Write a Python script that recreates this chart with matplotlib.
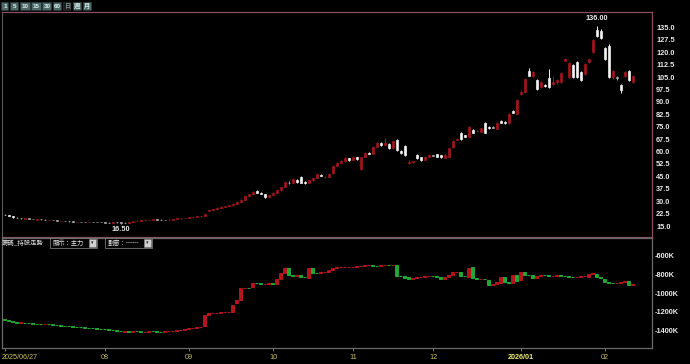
import matplotlib
matplotlib.use("Agg")
import matplotlib.pyplot as plt
from matplotlib.patches import Rectangle
import numpy as np
import pandas as pd

plt.rcParams['font.family'] = ['Liberation Sans', 'Noto Sans CJK TC', 'DejaVu Sans']

# ---------------- data ----------------
start_date = "2025-06-27"
end_date = "2026-02-11"
holidays = ["2025-09-29", "2025-10-06", "2025-10-10", "2025-10-24", "2025-12-25", "2026-01-01"]

price_open = [21.9, 21.5, 20.8, 20.1, 19.8, 19.5, 19.6, 19.3, 18.9, 19.1,
              18.9, 18.5, 18.6, 18.5, 18.1, 18.2, 18.0, 17.8, 17.5, 17.6,
              17.5, 17.4, 17.6, 17.5, 17.4, 17.3, 17.1, 17.0, 17.2, 17.2,
              17.1, 17.0, 17.3, 18.0, 18.3, 18.4, 18.6, 18.8, 19.2, 18.9,
              18.6, 18.6, 18.9, 19.2, 19.6, 19.8, 20.0, 20.2, 20.5, 20.8,
              21.0, 24.3, 24.4, 25.0, 25.9, 26.5, 27.0, 27.5, 28.3, 29.5,
              31.0, 33.0, 34.2, 35.9, 35.2, 34.2, 32.6, 33.8, 35.0, 36.5,
              38.6, 41.2, 41.0, 43.0, 44.8, 41.5, 41.0, 42.8, 44.2, 46.0,
              44.5, 44.8, 46.8, 51.3, 53.1, 54.3, 56.0, 55.0, 56.8, 49.5,
              56.7, 59.3, 58.6, 62.8, 65.0, 64.0, 64.5, 62.0, 67.0, 60.5,
              63.5, 53.0, 53.5, 58.0, 56.5, 55.2, 56.7, 58.0, 58.3, 57.8,
              56.3, 56.8, 62.5, 67.3, 71.3, 70.0, 69.0, 73.0, 72.3, 72.0,
              77.3, 74.8, 75.0, 73.7, 78.5, 78.0, 77.0, 84.5, 83.0, 95.0,
              96.0, 109.0, 105.5, 103.0, 99.0, 100.5, 104.5, 101.0, 102.0, 102.0,
              115.0, 105.0, 112.5, 114.0, 108.0, 107.0, 114.0, 120.0, 133.6, 133.0,
              122.7, 124.0, 105.0, 104.8, 100.0, 106.0, 108.6, 102.0]
price_high = [22.2, 21.6, 20.9, 20.3, 19.9, 19.8, 19.7, 19.4, 19.2, 19.2,
              19.0, 18.8, 18.7, 18.6, 18.3, 18.3, 18.1, 17.9, 17.7, 17.7,
              17.6, 17.7, 17.7, 17.6, 17.5, 17.4, 17.2, 17.3, 17.3, 17.3,
              17.2, 17.4, 18.1, 18.4, 18.6, 18.7, 18.9, 19.4, 19.3, 19.0,
              18.8, 19.0, 19.3, 19.7, 19.9, 20.1, 20.3, 20.6, 20.9, 21.2,
              22.6, 24.9, 25.3, 26.2, 26.8, 27.3, 27.8, 28.7, 29.9, 31.4,
              33.3, 34.6, 36.3, 36.5, 35.6, 34.5, 34.0, 35.3, 36.8, 38.8,
              42.0, 42.2, 43.8, 43.5, 45.5, 42.0, 43.1, 44.5, 47.0, 46.5,
              45.2, 46.8, 51.6, 53.5, 54.8, 56.6, 56.4, 57.2, 57.0, 57.0,
              59.8, 59.6, 63.3, 65.8, 65.5, 68.5, 65.0, 67.0, 67.5, 61.0,
              64.0, 55.0, 54.5, 58.5, 57.0, 57.2, 58.7, 58.2, 58.5, 58.0,
              58.3, 62.3, 67.0, 68.0, 71.8, 70.3, 75.5, 73.5, 73.0, 74.3,
              78.0, 75.2, 75.3, 77.8, 79.0, 78.5, 83.3, 85.0, 91.5, 97.0,
              104.5, 110.5, 108.5, 104.0, 102.5, 101.0, 110.0, 106.0, 104.0, 108.0,
              116.5, 114.0, 113.0, 115.0, 108.5, 113.5, 116.5, 128.0, 136.0, 134.0,
              123.5, 125.0, 109.5, 106.0, 101.0, 108.5, 109.5, 106.5]
price_low = [21.4, 20.8, 20.1, 19.8, 19.5, 19.4, 19.2, 19.0, 18.8, 18.9,
             18.5, 18.4, 18.4, 18.2, 18.0, 17.9, 17.7, 17.5, 17.4, 17.4,
             17.3, 17.3, 17.4, 17.3, 17.2, 17.0, 16.9, 16.9, 17.0, 16.5,
             16.8, 16.9, 17.3, 17.9, 18.2, 18.3, 18.5, 18.7, 18.8, 18.5,
             18.4, 18.5, 18.8, 19.1, 19.5, 19.7, 19.9, 20.1, 20.4, 20.6,
             20.9, 23.8, 24.2, 24.9, 25.7, 26.3, 26.8, 27.3, 28.1, 29.3,
             30.8, 32.8, 34.0, 35.0, 34.2, 32.2, 32.4, 33.6, 34.8, 36.3,
             38.4, 40.6, 40.8, 41.3, 41.0, 40.5, 40.8, 42.5, 44.0, 45.0,
             44.2, 44.6, 46.6, 51.0, 52.8, 54.0, 54.6, 54.8, 55.2, 49.0,
             56.5, 58.3, 58.4, 62.5, 63.6, 63.8, 61.5, 61.8, 60.5, 58.8,
             57.5, 52.5, 53.0, 55.5, 54.5, 55.0, 56.5, 57.3, 56.8, 56.3,
             56.0, 56.5, 62.2, 66.8, 67.3, 68.7, 68.8, 71.2, 72.0, 71.8,
             71.0, 73.8, 74.0, 73.5, 77.2, 76.7, 76.8, 83.2, 82.8, 94.5,
             95.5, 105.5, 105.0, 97.5, 98.5, 99.0, 98.5, 100.0, 101.0, 101.5,
             114.5, 104.5, 104.5, 104.5, 102.5, 106.5, 113.5, 119.5, 129.0, 128.0,
             115.5, 104.5, 104.0, 103.0, 95.5, 105.0, 102.5, 101.5]
price_close = [21.6, 20.9, 20.2, 19.9, 19.7, 19.6, 19.3, 19.1, 19.05, 19.0,
               18.6, 18.65, 18.5, 18.3, 18.2, 18.0, 17.8, 17.6, 17.6, 17.5,
               17.4, 17.6, 17.5, 17.4, 17.3, 17.1, 17.0, 17.2, 17.2, 17.1,
               17.0, 17.3, 18.0, 18.3, 18.4, 18.6, 18.8, 19.2, 18.9, 18.6,
               18.6, 18.9, 19.2, 19.6, 19.8, 20.0, 20.2, 20.5, 20.8, 21.05,
               22.3, 24.4, 25.0, 25.9, 26.5, 27.0, 27.5, 28.3, 29.5, 31.0,
               33.0, 34.2, 35.8, 35.2, 34.4, 32.5, 33.8, 35.0, 36.5, 38.5,
               41.6, 41.0, 43.4, 41.6, 41.3, 40.8, 42.8, 44.0, 46.5, 45.2,
               44.8, 46.5, 51.3, 53.1, 54.3, 56.1, 54.9, 56.7, 55.5, 56.7,
               59.2, 58.6, 62.8, 65.2, 64.0, 65.2, 62.0, 66.4, 61.0, 59.2,
               58.0, 54.0, 54.2, 56.0, 55.0, 56.7, 58.0, 57.5, 57.0, 56.5,
               58.0, 62.0, 66.5, 67.5, 67.6, 69.0, 75.0, 71.5, 72.5, 74.0,
               71.3, 74.0, 74.3, 77.3, 77.5, 77.0, 83.0, 83.5, 91.0, 96.0,
               104.0, 106.0, 108.0, 98.0, 102.0, 99.5, 99.0, 102.0, 103.0, 107.5,
               116.0, 113.6, 105.0, 105.0, 103.0, 113.0, 116.0, 127.5, 130.0, 128.6,
               116.0, 105.0, 109.0, 104.5, 97.0, 108.0, 103.0, 106.0]

# main-force holdings (thousand shares)
hold_open = [-1280, -1290, -1300, -1309, -1318, -1315, -1320, -1324, -1328, -1331,
             -1333, -1331, -1335, -1339, -1343, -1348, -1352, -1356, -1360, -1363,
             -1366, -1370, -1374, -1376, -1380, -1384, -1386, -1390, -1395, -1402,
             -1416, -1408, -1412, -1406, -1410, -1416, -1412, -1408, -1410, -1414,
             -1416, -1410, -1406, -1400, -1395, -1392, -1384, -1376, -1372, -1366,
             -1352, -1235, -1215, -1212, -1208, -1204, -1202, -1200, -1110, -1070,
             -946, -943, -940, -892, -895, -903, -900, -896, -900, -845,
             -790, -735, -806, -817, -810, -825, -839, -735, -780, -785,
             -775, -770, -755, -735, -725, -722, -720, -718, -716, -712,
             -710, -704, -702, -705, -708, -703, -700, -702, -700, -817,
             -820, -832, -849, -838, -828, -825, -818, -817, -820, -828,
             -849, -828, -806, -774, -774, -817, -828, -721, -839, -849,
             -845, -860, -913, -903, -892, -828, -881, -892, -806, -860,
             -774, -806, -806, -838, -817, -806, -808, -817, -813, -806,
             -817, -818, -828, -830, -828, -817, -828, -796, -796, -828,
             -849, -881, -892, -895, -890, -881, -870, -913]
hold_close = [-1288, -1298, -1309, -1315, -1312, -1320, -1324, -1328, -1331, -1333,
              -1331, -1335, -1339, -1343, -1348, -1352, -1356, -1360, -1363, -1366,
              -1370, -1374, -1376, -1380, -1384, -1386, -1390, -1395, -1402, -1410,
              -1408, -1412, -1406, -1410, -1416, -1412, -1408, -1410, -1414, -1416,
              -1410, -1406, -1400, -1395, -1392, -1384, -1376, -1372, -1366, -1358,
              -1235, -1215, -1212, -1208, -1204, -1202, -1200, -1128, -1074, -946,
              -943, -948, -892, -895, -903, -900, -896, -903, -845, -790,
              -735, -806, -817, -810, -825, -830, -735, -780, -785, -775,
              -772, -755, -735, -725, -722, -720, -718, -716, -712, -710,
              -704, -702, -705, -708, -703, -700, -702, -700, -817, -820,
              -839, -849, -838, -828, -825, -818, -817, -820, -828, -849,
              -828, -806, -774, -772, -817, -820, -732, -839, -849, -845,
              -849, -913, -903, -881, -828, -881, -892, -806, -871, -774,
              -806, -806, -838, -817, -806, -808, -817, -813, -806, -817,
              -818, -828, -830, -828, -817, -815, -796, -790, -828, -839,
              -881, -892, -895, -890, -881, -870, -913, -903]

price_ticks = [15.0, 22.5, 30.0, 37.5, 45.0, 52.5, 60.0, 67.5, 75.0, 82.5,
               90.0, 97.5, 105.0, 112.5, 120.0, 127.5, 135.0]
hold_ticks = [-600, -800, -1000, -1200, -1400]
toolbar_labels = ["1", "5", "10", "15", "30", "60", "日", "週", "月"]

# ---------------- figure ----------------
W, H = 690, 364
fig = plt.figure(figsize=(W / 100, H / 100), dpi=100, facecolor="black")

dates = pd.bdate_range(start_date, end_date)
dates = dates[~dates.isin(pd.to_datetime(holidays))]
n = len(price_close)
dates = dates[:n]
idx = np.arange(n)

def fx(px):
    return px / W

def fy(py):
    return 1 - py / H

ax1 = fig.add_axes([fx(2), fy(237), fx(650), 225 / H], facecolor="black")
ax2 = fig.add_axes([fx(2), fy(348), fx(650), 110 / H], facecolor="black")

UP = "#a3151d"
DOWN = "#f2f2f2"
FLAT = "#a8a8a8"

po, ph, pl, pc = map(np.array, (price_open, price_high, price_low, price_close))
for i in idx:
    if abs(pc[i] - po[i]) < 0.25 * (1 + pc[i] / 40):
        col = FLAT if pc[i] < po[i] + 0.01 else UP
    else:
        col = UP if pc[i] > po[i] else DOWN
    ax1.vlines(i, pl[i], ph[i], color=col, lw=0.7)
    ax1.bar(i, abs(pc[i] - po[i]), bottom=min(pc[i], po[i]), width=0.72,
            color=col, edgecolor=col, linewidth=0.5)

ax1.set_xlim(-0.75, 161.75)
ax1.set_ylim(8.35, 144.4)
ax1.yaxis.tick_right()
ax1.set_yticks(price_ticks)
ax1.set_yticklabels([f"{v:.1f}" for v in price_ticks])
ax1.tick_params(axis="y", length=0, pad=3, labelsize=5.3, labelcolor="#e8e8e8")
for lab in ax1.get_yticklabels():
    lab.set_fontweight("bold")
ax1.set_xticks([])
for s in ["top", "right", "bottom"]:
    ax1.spines[s].set_color("#8a4e66")
    ax1.spines[s].set_linewidth(0.9)
ax1.spines["left"].set_color("#5a5a5a")

imax = int(np.argmax(ph))
imin = int(np.argmin(pl))
ax1.annotate(f"{ph[imax]:.2f}", (imax, ph[imax]), xytext=(0, 3), textcoords="offset points",
             ha="center", va="bottom", color="#e8e8e8", fontsize=5.3, fontweight="bold")
ax1.annotate(f"{pl[imin]:.2f}", (imin, pl[imin]), xytext=(0, -1.5), textcoords="offset points",
             ha="center", va="top", color="#e8e8e8", fontsize=5.3, fontweight="bold")

HUP = "#b3161c"
HDN = "#22a832"
ho, hc = np.array(hold_open), np.array(hold_close)
for i in idx:
    col = HUP if hc[i] > ho[i] else HDN
    ax2.bar(i, abs(hc[i] - ho[i]), bottom=min(hc[i], ho[i]), width=0.75,
            color=col, edgecolor=col, linewidth=0.7)
ax2.set_xlim(-0.75, 161.75)
ax2.set_ylim(-1587, -411)
ax2.yaxis.tick_right()
ax2.set_yticks(hold_ticks)
ax2.set_yticklabels([f"{v:.0f}K" for v in hold_ticks])
ax2.tick_params(axis="y", length=0, pad=2, labelsize=5.3, labelcolor="#e8e8e8")
for lab in ax2.get_yticklabels():
    lab.set_fontweight("bold")
for s in ax2.spines.values():
    s.set_color("#6a6a6a")
    s.set_linewidth(0.9)

# month ticks (first date at left, then first trading day of each later month)
month_pos = [0]
month_lab = [""]
first_label = dates[0].strftime("%Y/%m/%d")
for i in range(1, n):
    if dates[i].month != dates[i - 1].month and i >= 10:
        month_pos.append(i)
        month_lab.append(dates[i].strftime("%Y/%m") if dates[i].month == 1 else dates[i].strftime("%m"))
ax2.set_xticks(month_pos)
ax2.set_xticklabels(month_lab)
ax2.tick_params(axis="x", length=2.5, width=0.6, color="#8a8a8a", pad=1.5,
                labelsize=5.2, labelcolor="#c8c060")
for lab in ax2.get_xticklabels():
    if len(lab.get_text()) == 7:
        lab.set_fontweight("bold")
        lab.set_color("#ecec70")
ax2.annotate(first_label, xy=(-0.75, 0), xycoords=("data", "axes fraction"),
             xytext=(0, -4.0), textcoords="offset points", ha="left", va="top",
             fontsize=5.2, color="#c8c060")

# ---------------- header widgets ----------------
bx = [(1, 9), (10, 19), (20, 31), (31, 42), (42, 52), (53, 62), (63, 71), (73, 82), (83, 92)]
for (x0, x1), t in zip(bx, toolbar_labels):
    sel = t == "日"
    fig.patches.append(Rectangle((fx(x0), fy(10)), fx(x1 - x0 - 0.6), 8 / H, transform=fig.transFigure,
                                 facecolor="#1c1c1c" if sel else "#4c6868",
                                 edgecolor="#2a3a3a", linewidth=0.4))
    fig.text(fx((x0 + x1) / 2), fy(6), t, ha="center", va="center", fontsize=4.5,
             color="#7a8c8c" if sel else "#d8ecec", fontweight="bold")

fig.text(fx(2), fy(242.5), "籌碼_持股走勢", ha="left", va="center", fontsize=4.6, color="#e6e6e6",
         family=["Noto Sans CJK TC", "DejaVu Sans"])
for (x0, x1, t) in [(50, 97, "顯示：主力"), (105, 152, "劃窗：------")]:
    fig.patches.append(Rectangle((fx(x0), fy(248)), fx(x1 - x0), 10 / H, transform=fig.transFigure,
                                 facecolor="#050505", edgecolor="#8a8a8a", linewidth=0.5))
    fig.patches.append(Rectangle((fx(x1 - 8), fy(247)), fx(7), 8 / H, transform=fig.transFigure,
                                 facecolor="#d0d0d0", edgecolor="#8a8a8a", linewidth=0.4))
    fig.text(fx(x1 - 4.5), fy(243), "▾", ha="center", va="center", fontsize=3.5, color="#202020",
             family=["DejaVu Sans"])
    fig.text(fx(x0 + 3), fy(243), t, ha="left", va="center", fontsize=4.5, color="#e6e6e6",
             family=["Noto Sans CJK TC", "DejaVu Sans"])

fig.savefig("out.png", dpi=100, facecolor="black")
